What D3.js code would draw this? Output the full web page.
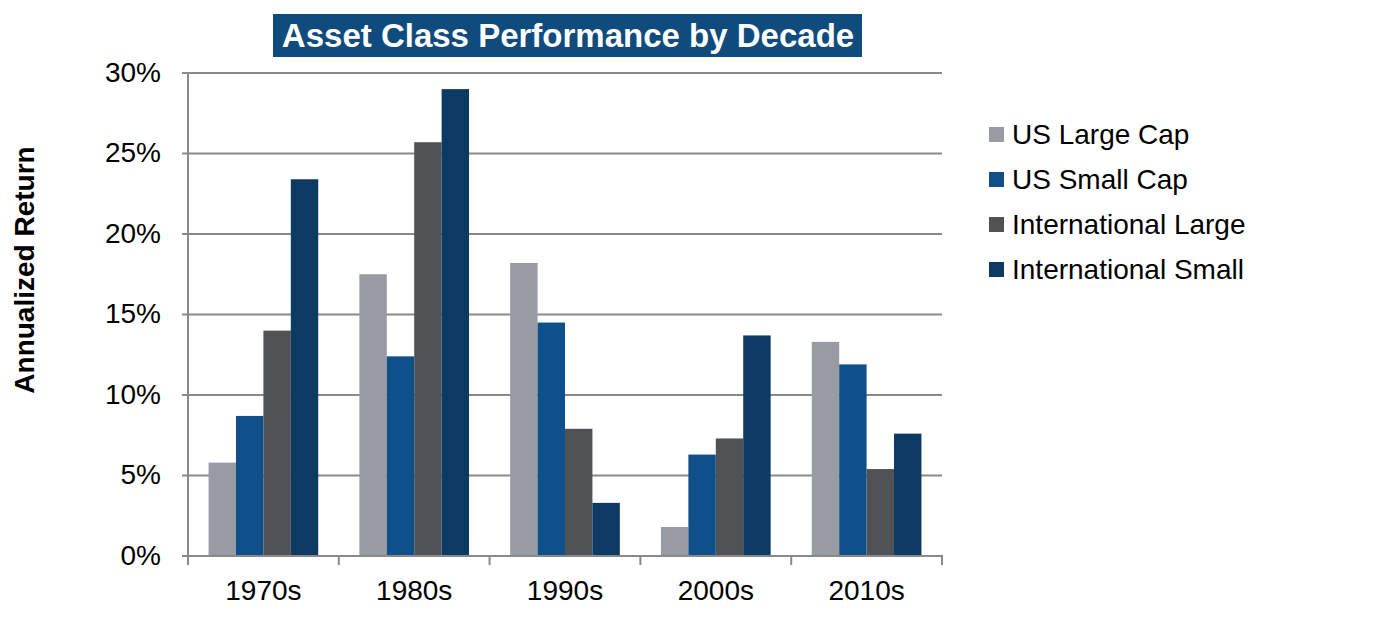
<!DOCTYPE html>
<html><head><meta charset="utf-8">
<script src="https://cdn.jsdelivr.net/npm/d3@7"></script>
<style>body{margin:0;background:#fff;}svg{display:block;font-family:"Liberation Sans",Arial,sans-serif;}</style>
</head><body>
<svg id="c" width="1375" height="637"></svg>
<script>
const title = "Asset Class Performance by Decade";
const yAxisTitle = "Annualized Return";
const categories = ["1970s","1980s","1990s","2000s","2010s"];
const seriesNames = ["US Large Cap","US Small Cap","International Large","International Small"];
const usLargeCap = [5.8, 17.5, 18.2, 1.8, 13.3];
const usSmallCap = [8.7, 12.4, 14.5, 6.3, 11.9];
const intlLarge = [14.0, 25.7, 7.9, 7.3, 5.4];
const intlSmall = [23.4, 29.0, 3.3, 13.7, 7.6];
const yTicks = [0,5,10,15,20,25,30];
const colors = ["#999ba3","#10508a","#515256","#0d3a63"];

const seriesValues = [usLargeCap, usSmallCap, intlLarge, intlSmall];
const svg = d3.select("#c");
const L = 188, R = 942, T = 73, B = 556;
const x = d3.scaleBand().domain(categories).range([L,R]).paddingInner(0).paddingOuter(0);
const y = d3.scaleLinear().domain([0,30]).range([B,T]);
const gapRatio = 1.5;
const half = x.bandwidth()*gapRatio/(4+gapRatio)/2;
const xs = d3.scaleBand().domain(seriesNames).range([half, x.bandwidth()-half]);

// gridlines
svg.append("g").selectAll("line").data(yTicks.filter(d=>d>0)).join("line")
  .attr("x1",L).attr("x2",R).attr("y1",d=>y(d)).attr("y2",d=>y(d))
  .attr("stroke","#898989").attr("stroke-width",2);

// bars
const rows = categories.map((c,i)=>({c, vals: seriesValues.map((s,j)=>({name:seriesNames[j], v:s[i], j}))}));
svg.append("g").selectAll("g").data(rows).join("g")
  .attr("transform",d=>`translate(${x(d.c)},0)`)
  .selectAll("rect").data(d=>d.vals).join("rect")
  .attr("x",d=>xs(d.name)).attr("width",xs.bandwidth())
  .attr("y",d=>y(d.v)).attr("height",d=>y(0)-y(d.v))
  .attr("fill",d=>colors[d.j]);

// y axis
const yAxis = svg.append("g").attr("transform",`translate(${L},0)`)
  .call(d3.axisLeft(y).tickValues(yTicks).tickFormat(d=>d+"%").tickSize(0).tickPadding(27));
yAxis.select(".domain").attr("stroke","#898989").attr("stroke-width",2).attr("d",`M0,${T-1}V${B}`);
yAxis.selectAll("text").attr("font-size",28).attr("fill","#000").attr("dy","0.3em").attr("font-family","Liberation Sans, Arial, sans-serif");

// y ticks (outer marks)
svg.append("g").selectAll("line").data(yTicks).join("line")
  .attr("x1",L-6).attr("x2",L).attr("y1",d=>y(d)).attr("y2",d=>y(d))
  .attr("stroke","#898989").attr("stroke-width",2);

// x axis
const xAxis = svg.append("g").attr("transform",`translate(0,${B})`)
  .call(d3.axisBottom(x).tickSize(0).tickPadding(24));
xAxis.select(".domain").attr("stroke","#898989").attr("stroke-width",2).attr("d",`M${L},0H${R+1}`);
xAxis.selectAll("text").attr("font-size",28).attr("fill","#000").attr("font-family","Liberation Sans, Arial, sans-serif");
const bounds = categories.map(c=>x(c)).concat([R]);
svg.append("g").selectAll("line").data(bounds).join("line")
  .attr("x1",d=>d).attr("x2",d=>d).attr("y1",B).attr("y2",B+9)
  .attr("stroke","#898989").attr("stroke-width",2);

// y axis title
svg.append("text").attr("transform","translate(34,270) rotate(-90)")
  .attr("text-anchor","middle").attr("font-weight","bold").attr("font-size",28)
  .attr("fill","#000").text(yAxisTitle);

// title
const tg = svg.append("g");
tg.append("rect").attr("x",273).attr("y",14).attr("width",589).attr("height",43).attr("fill","#104b7d");
tg.append("text").attr("x",568).attr("y",47).attr("text-anchor","middle")
  .attr("font-weight","bold").attr("font-size",33).attr("fill","#fff").text(title);

// legend
const lg = svg.append("g").attr("transform","translate(989,134.5)");
const li = lg.selectAll("g").data(seriesNames).join("g").attr("transform",(d,i)=>`translate(0,${i*45})`);
li.append("rect").attr("x",0).attr("y",-7.5).attr("width",15).attr("height",15).attr("fill",(d,i)=>colors[i]);
li.append("text").attr("x",23).attr("y",0).attr("dy","0.35em").attr("font-size",28).attr("fill","#000").text(d=>d);
</script>
</body></html>
